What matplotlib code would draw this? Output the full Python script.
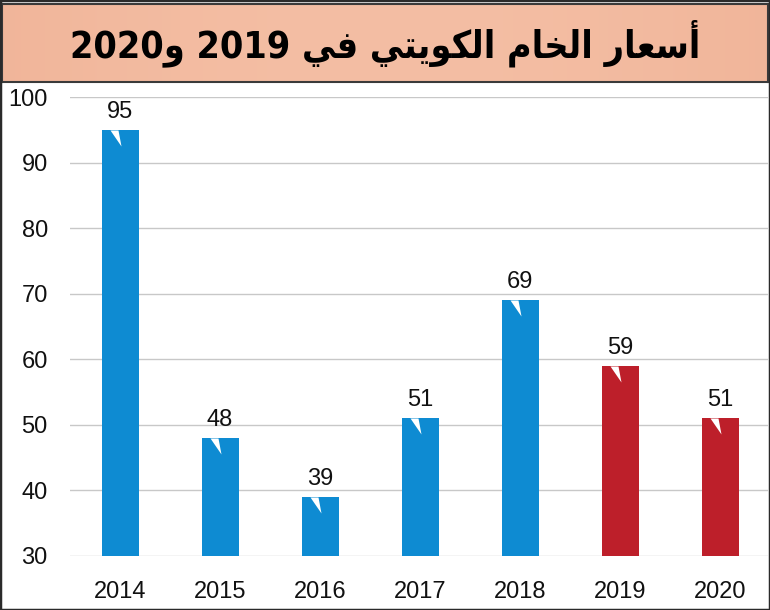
"""Kuwaiti crude prices 2014-2020 bar chart with Arabic banner title."""

import matplotlib
matplotlib.use("Agg")
import matplotlib.pyplot as plt
import numpy as np
from matplotlib.patches import Rectangle

years = ["2014", "2015", "2016", "2017", "2018", "2019", "2020"]
prices = [95, 48, 39, 51, 69, 59, 51]
forecast = [False, False, False, False, False, True, True]
y_ticks = [30, 40, 50, 60, 70, 80, 90, 100]
title_text = "أسعار الخام الكويتي في 2019 و2020"

BLUE = "#0E8BD2"
RED = "#BD1F2A"

# minimal Arabic shaping: isolated, final, initial, medial
FORMS = {
    "\u0623": ("\uFE83", "\uFE84", None, None),
    "\u0627": ("\uFE8D", "\uFE8E", None, None),
    "\u0631": ("\uFEAD", "\uFEAE", None, None),
    "\u0648": ("\uFEED", "\uFEEE", None, None),
    "\u062A": ("\uFE95", "\uFE96", "\uFE97", "\uFE98"),
    "\u062E": ("\uFEA5", "\uFEA6", "\uFEA7", "\uFEA8"),
    "\u0633": ("\uFEB1", "\uFEB2", "\uFEB3", "\uFEB4"),
    "\u0639": ("\uFEC9", "\uFECA", "\uFECB", "\uFECC"),
    "\u0641": ("\uFED1", "\uFED2", "\uFED3", "\uFED4"),
    "\u0643": ("\uFED9", "\uFEDA", "\uFEDB", "\uFEDC"),
    "\u0644": ("\uFEDD", "\uFEDE", "\uFEDF", "\uFEE0"),
    "\u0645": ("\uFEE1", "\uFEE2", "\uFEE3", "\uFEE4"),
    "\u064A": ("\uFEF1", "\uFEF2", "\uFEF3", "\uFEF4"),
}


def shape_arabic(text):
    out = []
    for i, ch in enumerate(text):
        if ch not in FORMS:
            out.append(ch)
            continue
        prev = text[i - 1] if i > 0 else ""
        nxt = text[i + 1] if i + 1 < len(text) else ""
        dual = FORMS[ch][2] is not None
        join_prev = prev in FORMS and FORMS[prev][2] is not None
        join_next = dual and nxt in FORMS
        if join_prev and join_next:
            out.append(FORMS[ch][3])
        elif join_prev:
            out.append(FORMS[ch][1])
        elif join_next:
            out.append(FORMS[ch][2])
        else:
            out.append(FORMS[ch][0])
    # visual order: reverse, keep digit runs left-to-right
    rev = out[::-1]
    result, run = [], []
    for ch in rev:
        if ch.isdigit():
            run.append(ch)
        else:
            result.extend(run[::-1])
            run = []
            result.append(ch)
    result.extend(run[::-1])
    return "".join(result)


fig = plt.figure(figsize=(7.7, 6.1), dpi=100)
fig.patch.set_facecolor("white")

# banner
bax = fig.add_axes([0.003, 1 - 82 / 610, 0.994, 78 / 610])
xg = np.linspace(-1, 1, 300)
light = 1 - 0.4 * xg ** 2
c1 = np.array([0xEC, 0xA8, 0x8A]) / 255
c2 = np.array([0xF4, 0xBE, 0xA4]) / 255
grad = c1[None, :] * (1 - light[:, None]) + c2[None, :] * light[:, None]
bax.imshow(grad[None, :, :], aspect="auto", extent=[0, 1, 0, 1])
bax.set_xticks([])
bax.set_yticks([])
for s in bax.spines.values():
    s.set_color("#3a3a3a")
    s.set_linewidth(1.5)
bax.text(0.5, 0.5, shape_arabic(title_text), ha="center", va="center",
         fontsize=27, fontweight="bold", fontstretch="condensed",
         family=["DejaVu Sans"], color="black", transform=bax.transAxes)

ax = fig.add_axes([70 / 770, 1 - 556 / 610, 698 / 770, (556 - 97) / 610])
x = np.arange(len(years))
colors = [RED if f else BLUE for f in forecast]
ax.bar(x, [p - 30 for p in prices], bottom=30, width=0.37, color=colors, zorder=3)

# white notch at the top of every bar (origin = bar top centre)
notch = [(-10, 0), (-2, 0), (1, -16)]
ax.scatter(x, prices, marker=notch, s=530, color="white", zorder=4, linewidths=0)

for xi, p in zip(x, prices):
    ax.text(xi, p + 1.1, str(p), ha="center", va="bottom", fontsize=17,
            family="Liberation Sans", color="#111111")

ax.set_ylim(30, 100)
ax.set_xlim(-0.5, 6.48)
ax.set_yticks(y_ticks)
ax.set_yticklabels([str(t) for t in y_ticks], fontsize=17, family="Liberation Sans",
                   color="#111111")
ax.set_xticks(x)
ax.set_xticklabels(years, fontsize=17, family="Liberation Sans", color="#111111")
ax.tick_params(axis="y", length=0, pad=16)
ax.tick_params(axis="x", length=0, pad=18)
ax.grid(axis="y", color="#c8c8c8", linewidth=1, zorder=0)
for s in ax.spines.values():
    s.set_visible(False)

fig.patches.append(Rectangle((0, 0), 1, 1, transform=fig.transFigure, fill=False,
                             edgecolor="#2a2a2a", linewidth=2.5))

fig.savefig("out.png", dpi=100)
